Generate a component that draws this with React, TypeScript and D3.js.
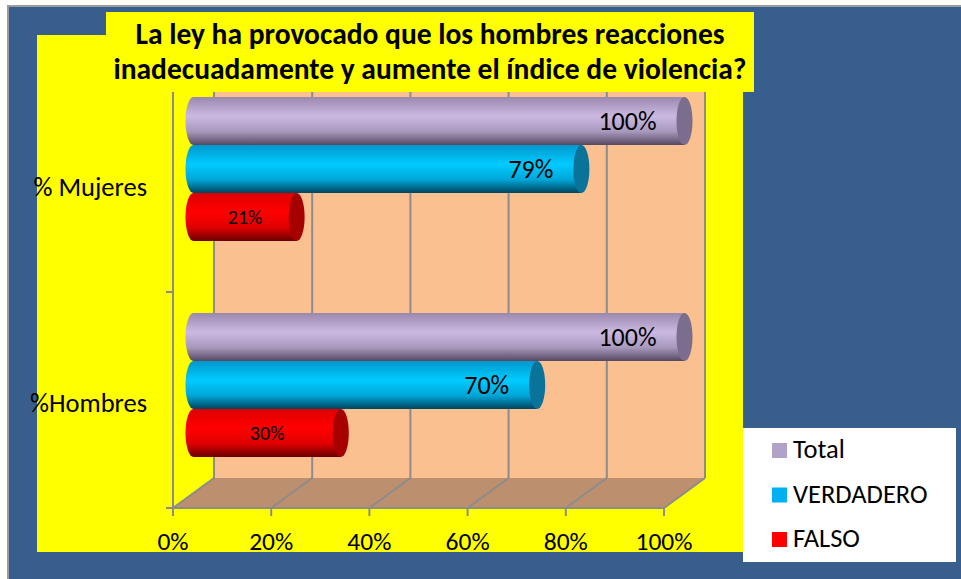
import * as d3 from 'd3'

const CATEGORIES = ['% Mujeres', '%Hombres']
const SERIES = ['Total', 'VERDADERO', 'FALSO']
const TOTAL = [1.0, 1.0]
const VERDADERO = [0.79, 0.7]
const FALSO = [0.21, 0.3]
const X_TICKS = [0, 0.2, 0.4, 0.6, 0.8, 1.0]
const TITLE_LINES = [
  'La ley ha provocado que los hombres reacciones',
  'inadecuadamente y aumente el índice de violencia?',
]

const W = 961
const H = 579
const FONT = 'Carlito, Lato, "Open Sans", sans-serif'

// 3D frame (front plane + depth offset)
const FX0 = 173
const FX1 = 664
const FLOOR_Y = 508
const AXIS_TOP = 76
const DX = 41
const DY = -30

const COLORS: Record<string, { top: string; mid: string; low: string; bottom: string; cap: string; swatch: string }> = {
  Total: { top: '#9a89ad', mid: '#cbb9e2', low: '#a898bc', bottom: '#564862', cap: '#7b6d8d', swatch: '#b3a2c7' },
  VERDADERO: { top: '#0097cc', mid: '#00cbff', low: '#00a6d8', bottom: '#00445e', cap: '#0a7399', swatch: '#00b0f0' },
  FALSO: { top: '#dd0000', mid: '#ff0000', low: '#e00000', bottom: '#6a0000', cap: '#a60000', swatch: '#ff0000' },
}

export default function App() {
  const x = d3.scaleLinear().domain([0, 1]).range([FX0, FX1])
  const y = d3.scaleBand<string>().domain(CATEGORIES).range([AXIS_TOP, FLOOR_Y])
  const values: Record<string, number[]> = { Total: TOTAL, VERDADERO, FALSO }
  const barH = 48
  const rx = 8
  const pct = d3.format('.0%')

  const bars = CATEGORIES.flatMap((cat, ci) => {
    const c = (y(cat) ?? 0) + y.bandwidth() / 2 + DY / 2
    const inner = d3
      .scaleBand<string>()
      .domain(SERIES)
      .range([c - (barH * SERIES.length) / 2, c + (barH * SERIES.length) / 2])
    return SERIES.map((s) => ({ cat, s, v: values[s][ci], y0: inner(s) ?? 0 }))
  })

  return (
    <svg width={W} height={H} style={{ position: 'absolute', left: 0, top: 0 }} fontFamily={FONT}>
      <defs>
        {SERIES.map((s) => (
          <linearGradient key={s} id={`g-${s}`} x1="0" y1="0" x2="0" y2="1">
            <stop offset="0" stopColor={COLORS[s].top} />
            <stop offset="0.4" stopColor={COLORS[s].mid} />
            <stop offset="0.72" stopColor={COLORS[s].low} />
            <stop offset="1" stopColor={COLORS[s].bottom} />
          </linearGradient>
        ))}
      </defs>
      <rect width={W} height={H} fill="#fff" />
      <rect x={7} y={5} width={W - 7} height={H - 5} fill="#9b9b9b" />
      <rect x={9} y={7} width={W - 9} height={H - 7} fill="#385e8e" />

      {/* yellow chart area */}
      <rect x={37} y={35} width={706} height={517} fill="#ffff00" />

      {/* back wall */}
      <rect x={FX0 + DX} y={AXIS_TOP + DY} width={FX1 - FX0} height={FLOOR_Y - AXIS_TOP} fill="#fac090" />
      {/* floor */}
      <polygon
        points={`${FX0},${FLOOR_Y} ${FX1},${FLOOR_Y} ${FX1 + DX},${FLOOR_Y + DY} ${FX0 + DX},${FLOOR_Y + DY}`}
        fill="#bc8f6e"
      />
      {X_TICKS.map((t) => (
        <g key={t} stroke="#8c8c8c" strokeWidth={2} fill="none">
          <line x1={x(t) + DX} x2={x(t) + DX} y1={AXIS_TOP + DY} y2={FLOOR_Y + DY} />
          <line x1={x(t)} x2={x(t) + DX} y1={FLOOR_Y} y2={FLOOR_Y + DY} />
          <line x1={x(t)} x2={x(t)} y1={FLOOR_Y} y2={FLOOR_Y + 8} />
        </g>
      ))}
      {/* axes */}
      <g stroke="#8c8c8c" strokeWidth={2}>
        <line x1={FX0} x2={FX0} y1={AXIS_TOP} y2={FLOOR_Y} />
        <line x1={FX0} x2={FX1} y1={FLOOR_Y} y2={FLOOR_Y} />
        {[...CATEGORIES.map((c) => y(c) ?? 0), FLOOR_Y].map((v, i) => (
          <line key={i} x1={FX0 - 7} x2={FX0} y1={v} y2={v} />
        ))}
      </g>

      {/* cylinders */}
      {bars.map((b) => {
        const x0 = x(0) + DX / 2
        const x1 = x(b.v) + DX / 2
        const cy = b.y0 + barH / 2
        return (
          <g key={b.cat + b.s}>
            <ellipse cx={x0} cy={cy} rx={rx} ry={barH / 2} fill={`url(#g-${b.s})`} />
            <rect x={x0} y={b.y0} width={x1 - x0} height={barH} fill={`url(#g-${b.s})`} />
            <ellipse cx={x1} cy={cy} rx={rx} ry={barH / 2} fill={COLORS[b.s].cap} />
          </g>
        )
      })}
      {bars.map((b) => {
        const x0 = x(0) + DX / 2
        const x1 = x(b.v) + DX / 2
        const cy = b.y0 + barH / 2
        const small = b.s === 'FALSO'
        return (
          <text
            key={'l' + b.cat + b.s}
            x={small ? (x0 + x1) / 2 : x1 - 28}
            y={cy}
            dy="0.36em"
            textAnchor={small ? 'middle' : 'end'}
            fontSize={small ? 20 : 26}
            fill="#000"
          >
            {pct(b.v)}
          </text>
        )
      })}

      {/* category labels */}
      {CATEGORIES.map((c) => (
        <text key={c} x={147} y={(y(c) ?? 0) + y.bandwidth() / 2 + 2} dy="0.36em" textAnchor="end" fontSize={26.5}>
          {c}
        </text>
      ))}
      {/* x tick labels */}
      {X_TICKS.map((t) => (
        <text key={t} x={x(t)} y={550} textAnchor="middle" fontSize={25.5}>
          {pct(t)}
        </text>
      ))}

      {/* title */}
      <rect x={106} y={12} width={648} height={80} fill="#ffff00" />
      {TITLE_LINES.map((l, i) => (
        <text key={i} x={430} y={44 + i * 35} textAnchor="middle" fontSize={29.5} fontWeight="bold">
          {l}
        </text>
      ))}

      {/* legend */}
      <rect x={743} y={428} width={213} height={134} fill="#fff" />
      {SERIES.map((s, i) => (
        <g key={s} transform={`translate(772,${443 + i * 44.5})`}>
          <rect width={15} height={15} fill={COLORS[s].swatch} />
          <text x={21} y={15} fontSize={26.5}>
            {s}
          </text>
        </g>
      ))}
    </svg>
  )
}
